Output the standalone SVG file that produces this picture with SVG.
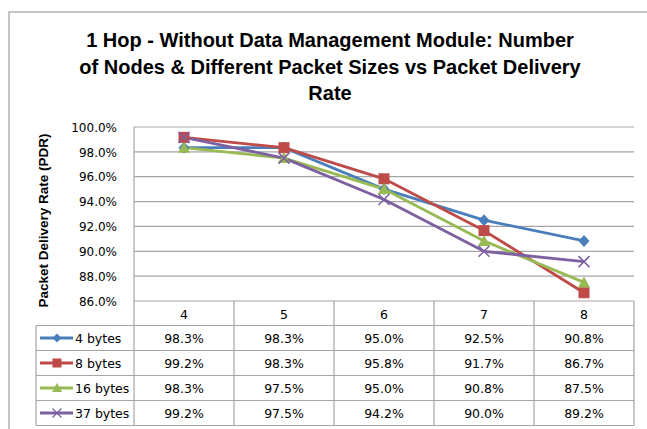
<svg xmlns="http://www.w3.org/2000/svg" xmlns:xlink="http://www.w3.org/1999/xlink" width="647" height="429" viewBox="0 0 647 429">
<style>
.title{font-family:"Liberation Sans",Arial,sans-serif;font-weight:bold;font-size:20px;fill:#000;text-anchor:middle}
.ytitle{font-family:"Liberation Sans",Arial,sans-serif;font-weight:bold;font-size:13.5px;fill:#000;text-anchor:middle}
.ylab{font-family:"DejaVu Sans",Verdana,sans-serif;font-size:12px;fill:#000;text-anchor:end}
.cell{font-family:"DejaVu Sans",Verdana,sans-serif;font-size:12.5px;fill:#000;text-anchor:middle}
.leg{font-family:"DejaVu Sans",Verdana,sans-serif;font-size:12.5px;fill:#000;text-anchor:start}
.grid{stroke:#a6a6a6;stroke-width:1.2;fill:none}
.tbl{stroke:#a6a6a6;stroke-width:1.2;fill:none}
.s1{stroke:#4a7ebb;stroke-width:2.8;fill:none;stroke-linejoin:round}
.s2{stroke:#be4b48;stroke-width:2.8;fill:none;stroke-linejoin:round}
.s3{stroke:#98b954;stroke-width:2.8;fill:none;stroke-linejoin:round}
.s4{stroke:#7d60a0;stroke-width:2.8;fill:none;stroke-linejoin:round}
</style>
<defs>
<polygon id="mDia" points="0,-6 5.5,0 0,6 -5.5,0" fill="#4a7ebb"/>
<rect id="mSq" x="-5.5" y="-5.5" width="11" height="11" fill="#be4b48"/>
<polygon id="mTri" points="0,-6 6,5 -6,5" fill="#98b954"/>
<path id="mX" d="M-5.5,-5.5 L5.5,5.5 M-5.5,5.5 L5.5,-5.5" stroke="#7d60a0" stroke-width="1.5" fill="none"/>
<polygon id="lDia" points="0,-4.5 4.5,0 0,4.5 -4.5,0" fill="#4a7ebb"/>
<rect id="lSq" x="-4.5" y="-4.5" width="9" height="9" fill="#be4b48"/>
<polygon id="lTri" points="0,-5 5,4 -5,4" fill="#98b954"/>
<path id="lX" d="M-4.5,-4.5 L4.5,4.5 M-4.5,4.5 L4.5,-4.5" stroke="#7d60a0" stroke-width="1.3" fill="none"/>
</defs>
<rect x="0" y="0" width="647" height="429" fill="#fff"/>
<rect id="frame" x="9" y="12" width="700" height="500" fill="none" stroke="#a0a0a0" stroke-width="1.2"/>

<g id="title">
<text class="title" x="330" y="46.5">1 Hop - Without Data Management Module: Number</text>
<text class="title" x="330" y="73.5">of Nodes &amp; Different Packet Sizes vs Packet Delivery</text>
<text class="title" x="330" y="100">Rate</text>
</g>

<g id="y-axis-title">
<text class="ytitle" transform="translate(48,220.5) rotate(-90)">Packet Delivery Rate (PDR)</text>
</g>

<g id="gridlines">
<line class="grid" x1="134" y1="127" x2="634" y2="127"/>
<line class="grid" x1="134" y1="151.9" x2="634" y2="151.9"/>
<line class="grid" x1="134" y1="176.7" x2="634" y2="176.7"/>
<line class="grid" x1="134" y1="201.6" x2="634" y2="201.6"/>
<line class="grid" x1="134" y1="226.4" x2="634" y2="226.4"/>
<line class="grid" x1="134" y1="251.3" x2="634" y2="251.3"/>
<line class="grid" x1="134" y1="276.1" x2="634" y2="276.1"/>
<line class="grid" x1="134" y1="127" x2="134" y2="301"/>
</g>

<g id="y-axis-labels">
<text class="ylab" x="117" y="131.6">100.0%</text>
<text class="ylab" x="117" y="156.5">98.0%</text>
<text class="ylab" x="117" y="181.3">96.0%</text>
<text class="ylab" x="117" y="206.2">94.0%</text>
<text class="ylab" x="117" y="231">92.0%</text>
<text class="ylab" x="117" y="255.9">90.0%</text>
<text class="ylab" x="117" y="280.7">88.0%</text>
<text class="ylab" x="117" y="305.6">86.0%</text>
</g>

<g id="data-table">
<path class="tbl" d="M134,301 H634 M36,325.5 H634 M36,350.5 H634 M36,375.5 H634 M36,400.5 H634 M36,425.5 H634 M36,325.5 V425.5 M134,301 V425.5 M234,301 V425.5 M334,301 V425.5 M434,301 V425.5 M534,301 V425.5 M634,301 V425.5"/>
<text class="cell" x="184" y="318.5">4</text>
<text class="cell" x="284" y="318.5">5</text>
<text class="cell" x="384" y="318.5">6</text>
<text class="cell" x="484" y="318.5">7</text>
<text class="cell" x="584" y="318.5">8</text>

<text class="cell" x="184" y="343">98.3%</text>
<text class="cell" x="284" y="343">98.3%</text>
<text class="cell" x="384" y="343">95.0%</text>
<text class="cell" x="484" y="343">92.5%</text>
<text class="cell" x="584" y="343">90.8%</text>

<text class="cell" x="184" y="368">99.2%</text>
<text class="cell" x="284" y="368">98.3%</text>
<text class="cell" x="384" y="368">95.8%</text>
<text class="cell" x="484" y="368">91.7%</text>
<text class="cell" x="584" y="368">86.7%</text>

<text class="cell" x="184" y="393">98.3%</text>
<text class="cell" x="284" y="393">97.5%</text>
<text class="cell" x="384" y="393">95.0%</text>
<text class="cell" x="484" y="393">90.8%</text>
<text class="cell" x="584" y="393">87.5%</text>

<text class="cell" x="184" y="418">99.2%</text>
<text class="cell" x="284" y="418">97.5%</text>
<text class="cell" x="384" y="418">94.2%</text>
<text class="cell" x="484" y="418">90.0%</text>
<text class="cell" x="584" y="418">89.2%</text>
</g>

<g id="legend">
<g id="legend-4bytes">
<line class="s1" x1="40" y1="338" x2="73" y2="338" stroke-width="2.5"/>
<use xlink:href="#lDia" href="#lDia" x="57" y="338"/>
<text class="leg" x="75" y="343">4 bytes</text>
</g>
<g id="legend-8bytes">
<line class="s2" x1="40" y1="363" x2="73" y2="363" stroke-width="2.5"/>
<use xlink:href="#lSq" href="#lSq" x="57" y="363"/>
<text class="leg" x="75" y="368">8 bytes</text>
</g>
<g id="legend-16bytes">
<line class="s3" x1="40" y1="388" x2="73" y2="388" stroke-width="2.5"/>
<use xlink:href="#lTri" href="#lTri" x="57" y="388"/>
<text class="leg" x="75" y="393">16 bytes</text>
</g>
<g id="legend-37bytes">
<line class="s4" x1="40" y1="413" x2="73" y2="413" stroke-width="2.5"/>
<use xlink:href="#lX" href="#lX" x="57" y="413"/>
<text class="leg" x="75" y="418">37 bytes</text>
</g>
</g>

<g id="connectors">
<polyline class="s1" points="184,147.7 284,147.7 384,189.1 484,220.2 584,240.9"/>
<polyline class="s2" points="184,137.4 284,147.7 384,178.8 484,230.6 584,292.7"/>
<polyline class="s3" points="184,147.7 284,158.1 384,189.1 484,240.9 584,282.4"/>
<polyline class="s4" points="184,137.4 284,158.1 384,199.5 484,251.3 584,261.6"/>
</g>

<g id="series-4bytes">
<use xlink:href="#mDia" href="#mDia" x="184" y="147.7"/>
<use xlink:href="#mDia" href="#mDia" x="284" y="147.7"/>
<use xlink:href="#mDia" href="#mDia" x="384" y="189.1"/>
<use xlink:href="#mDia" href="#mDia" x="484" y="220.2"/>
<use xlink:href="#mDia" href="#mDia" x="584" y="240.9"/>
</g>
<g id="series-8bytes">
<use xlink:href="#mSq" href="#mSq" x="184" y="137.4"/>
<use xlink:href="#mSq" href="#mSq" x="284" y="147.7"/>
<use xlink:href="#mSq" href="#mSq" x="384" y="178.8"/>
<use xlink:href="#mSq" href="#mSq" x="484" y="230.6"/>
<use xlink:href="#mSq" href="#mSq" x="584" y="292.7"/>
</g>
<g id="series-16bytes">
<use xlink:href="#mTri" href="#mTri" x="184" y="147.7"/>
<use xlink:href="#mTri" href="#mTri" x="284" y="158.1"/>
<use xlink:href="#mTri" href="#mTri" x="384" y="189.1"/>
<use xlink:href="#mTri" href="#mTri" x="484" y="240.9"/>
<use xlink:href="#mTri" href="#mTri" x="584" y="282.4"/>
</g>
<g id="series-37bytes">
<use xlink:href="#mX" href="#mX" x="184" y="137.4"/>
<use xlink:href="#mX" href="#mX" x="284" y="158.1"/>
<use xlink:href="#mX" href="#mX" x="384" y="199.5"/>
<use xlink:href="#mX" href="#mX" x="484" y="251.3"/>
<use xlink:href="#mX" href="#mX" x="584" y="261.6"/>
</g>
</svg>
